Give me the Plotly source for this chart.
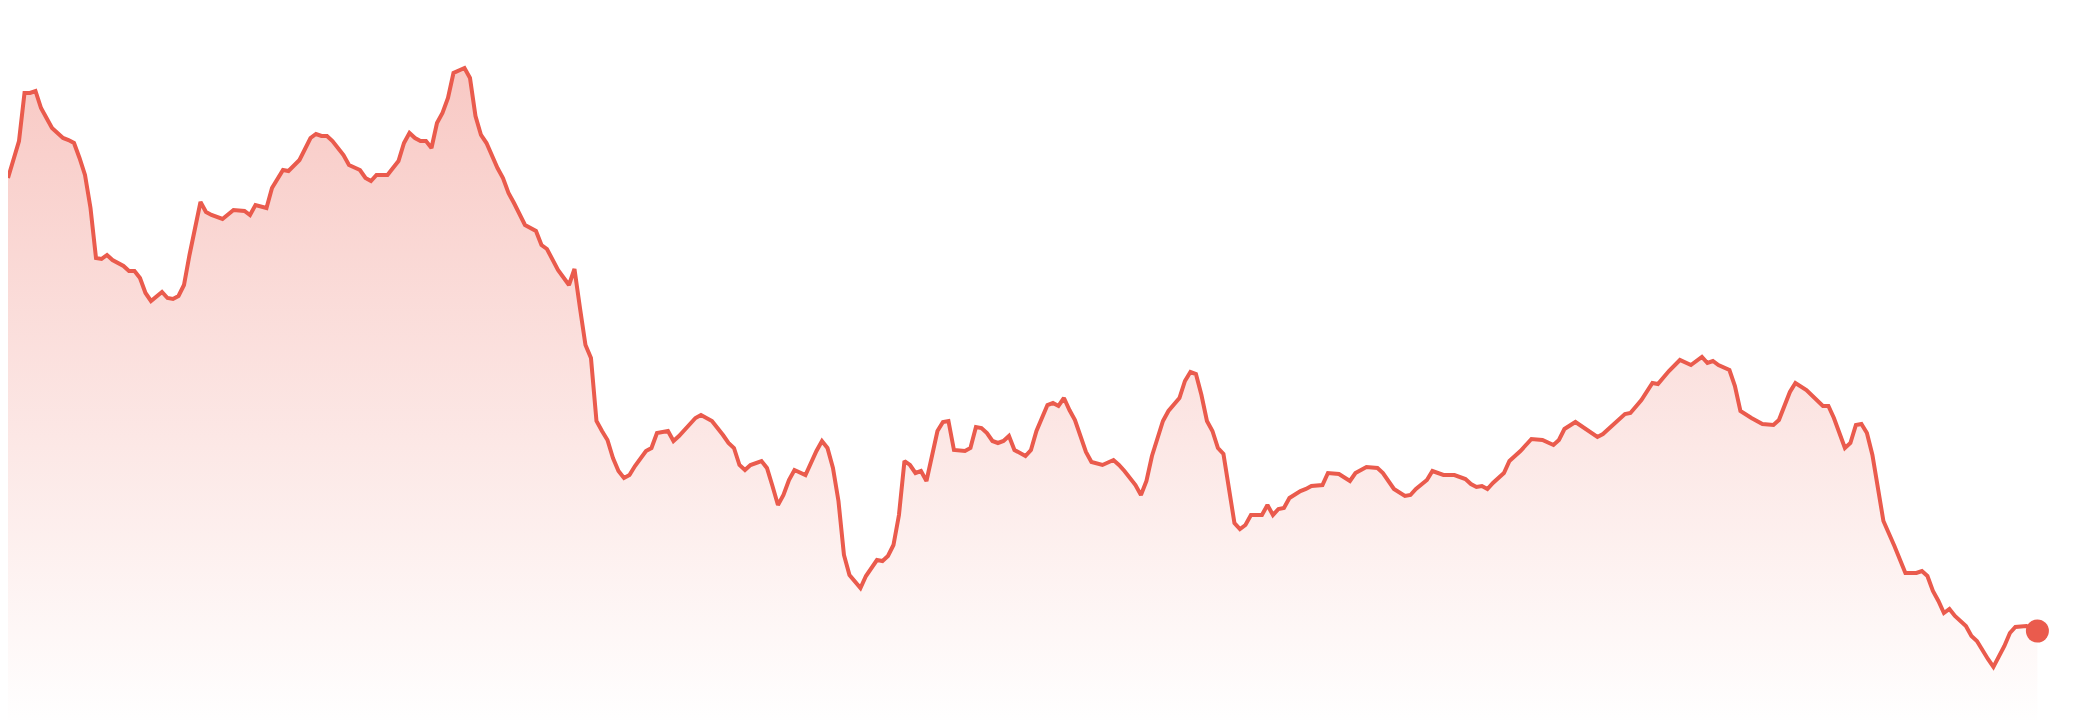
import pandas as pd
import plotly.graph_objects as go

# day offset from the start date, and closing price for that day
days = [0, 1, 2, 3, 4, 5, 6, 7, 8, 9, 10, 11, 12, 13, 14, 15, 16, 17, 18, 19,
        21, 22, 23, 24, 25, 26, 28, 29, 30, 31, 32, 33, 34, 35, 36, 37, 39, 40, 41, 43,
        44, 45, 47, 48, 50, 51, 52, 53, 55, 56, 57, 58, 59, 60, 61, 62, 63, 64, 65, 66,
        67, 69, 70, 71, 72, 73, 74, 75, 76, 77, 78, 79, 80, 81, 83, 84, 85, 86, 87, 89,
        90, 91, 92, 94, 96, 97, 98, 100, 102, 103, 104, 105, 106, 107, 108, 109, 110, 111, 112, 113,
        114, 116, 117, 118, 120, 121, 122, 125, 126, 127, 128, 130, 131, 132, 133, 134, 135, 137, 138, 139,
        140, 141, 142, 143, 145, 147, 148, 149, 150, 151, 152, 153, 154, 155, 156, 157, 158, 159, 160, 161,
        162, 163, 164, 165, 166, 167, 168, 169, 170, 171, 172, 174, 175, 176, 177, 178, 179, 180, 181, 182,
        183, 185, 186, 187, 189, 190, 191, 192, 193, 194, 196, 197, 199, 201, 202, 203, 205, 206, 207, 208,
        210, 211, 213, 214, 215, 216, 217, 218, 219, 220, 221, 222, 223, 224, 225, 226, 228, 229, 230, 231,
        232, 233, 235, 236, 237, 239, 240, 242, 244, 245, 247, 249, 250, 252, 254, 255, 256, 258, 259, 261,
        263, 265, 266, 267, 268, 269, 270, 272, 273, 275, 276, 277, 279, 281, 282, 283, 285, 287, 289, 290,
        294, 295, 297, 299, 300, 302, 304, 306, 308, 309, 310, 311, 312, 313, 314, 315, 317, 319, 321, 322,
        324, 325, 327, 328, 329, 330, 331, 332, 333, 334, 335, 336, 337, 338, 339, 340, 341, 343, 344, 345,
        347, 348, 349, 350, 351, 352, 353, 354, 356, 357, 358, 359, 360, 361, 362, 363, 364, 365, 367, 369]

price = [257.5, 261.75, 266.75, 278.75, 278.75, 279.25, 275, 272.5, 270, 268.75, 267.5, 267, 266.25, 262.5, 258.25, 250, 237.5, 237.25, 238.25, 237,
         235.5, 234.25, 234.25, 232.5, 228.75, 226.75, 229, 227.5, 227.25, 228, 230.75, 238.25, 245.5, 251.5, 249, 248.25, 247.25, 248.5, 249.5, 249.25,
         248.25, 250.75, 250, 255, 259.5, 259.25, 260.75, 262, 267.5, 268.5, 268, 268, 266.75, 265, 263.25, 260.75, 260, 259.5, 257.5, 256.75,
         258.25, 258.25, 260, 261.75, 266.25, 268.75, 267.5, 266.75, 266.75, 265, 271.25, 273.75, 277.5, 283.75, 285, 282.5, 273, 268.25, 266.25, 260,
         257.5, 253.75, 251.25, 245.75, 244.25, 240.75, 239.75, 234.5, 230.75, 234.75, 225, 215.75, 212.5, 196.75, 194.25, 192, 187.5, 184.25, 182.5, 183.25,
         185.5, 189.25, 190, 193.75, 194.25, 191.75, 193, 197.5, 198.25, 197.5, 196.75, 193.25, 191.25, 190, 185.75, 184.5, 185.75, 186.75, 185, 180.5,
         175.75, 178.25, 182, 184.5, 183.25, 189.25, 191.75, 190, 185, 176.75, 163.25, 158.25, 156.75, 155, 158, 160, 162, 161.75, 163, 165.75,
         173.25, 186.75, 185.75, 183.75, 184.25, 181.75, 188.25, 194.25, 196.5, 196.75, 189.5, 189.25, 190, 195.25, 195, 193.75, 191.75, 191.25, 191.75, 193,
         189.5, 188, 189.5, 194.25, 200.75, 201.25, 200.5, 202.5, 199.5, 197, 189, 186.5, 185.75, 187, 185.75, 184.25, 180.75, 178.25, 181.75, 188,
         196.75, 199.25, 202.5, 206.75, 209, 208.5, 203.25, 196.75, 194.25, 190, 188.5, 180.5, 171.25, 169.75, 170.75, 173.25, 173.25, 175.75, 173.25, 174.75,
         175, 177.5, 179.25, 179.75, 180.5, 180.75, 183.75, 183.5, 181.75, 183.75, 185.25, 185, 183.75, 179.75, 178, 178.25, 179.75, 182, 184.25, 183.25,
         183.25, 182.25, 181, 180.25, 180.5, 179.75, 181.25, 183.75, 186.75, 189.25, 190.75, 192.25, 192, 190.75, 192, 194.75, 196.5, 194.5, 192.75, 193.5,
         198.5, 198.75, 202, 206.25, 206, 209.25, 212, 210.75, 212.75, 211.25, 211.75, 210.75, 210.25, 209.5, 205.5, 199.25, 197.5, 196, 195.75, 197,
         204, 206.25, 204.5, 203.25, 202, 200.5, 200.5, 197.5, 193.75, 190, 191.25, 195.75, 196, 193.75, 188.25, 180, 171.75, 165.5, 162, 158.75,
         158.75, 159.25, 158, 154.25, 151.75, 148.75, 149.75, 148, 145.5, 143, 141.75, 139.25, 137.25, 135.25, 137.75, 140.5, 143.75, 145.25, 145.5, 144.25]

start = pd.Timestamp("2023-01-02")
dates = start + pd.to_timedelta(days, unit="D")

red = "#EA5B4D"

fig = go.Figure()
fig.add_trace(go.Scatter(
    x=dates, y=price, mode="lines",
    line=dict(color=red, width=4),
    fill="tozeroy",
    fillgradient=dict(type="vertical", start=120, stop=285,
                      colorscale=[[0, "rgba(234,91,77,0)"], [1, "rgba(234,91,77,0.33)"]]),
    hoverinfo="skip",
))
# highlighted latest close
fig.add_trace(go.Scatter(
    x=[dates[-1]], y=[price[-1]], mode="markers",
    marker=dict(color=red, size=23),
))

fig.update_layout(
    width=2080, height=720,
    margin=dict(l=0, r=0, t=0, b=0),
    paper_bgcolor="white", plot_bgcolor="white",
    showlegend=False,
    xaxis=dict(visible=False, range=[start, start + pd.Timedelta(days=378.2)]),
    yaxis=dict(visible=False, range=[120, 300]),
)

fig.write_html("out.html")
